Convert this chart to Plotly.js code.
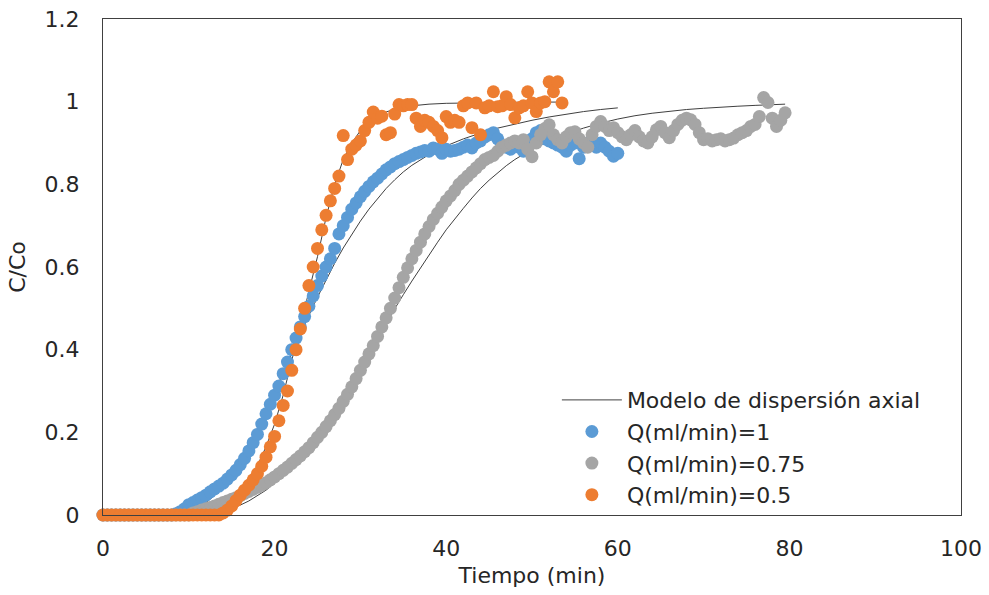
<!DOCTYPE html>
<html>
<head>
<meta charset="utf-8">
<script src="https://cdn.plot.ly/plotly-3.0.1.min.js"></script>
<style>html,body{margin:0;padding:0;background:#fff}#chart{width:989px;height:595px}</style>
</head>
<body>
<div id="chart"></div>
<script>
// ---- Data ----
// Q = 0.5 ml/min (orange)
const tOrange = [
0,0.5,1,1.5,2,2.5,3,3.5,4,4.5,
5,5.5,6,6.5,7,7.5,8,8.5,9,9.5,
10,10.5,11,11.5,12,12.5,13,13.5,14,14.5,
15,15.5,16,16.5,17,17.5,18,18.5,19,19.5,
20,20.5,21,21.5,22,22.5,23,23.5,24,24.5,
25,25.5,26,26.5,27,27.5,28,28.5,29,29.5,
30,30.5,31,31.5,32,32.5,33,33.5,34,34.5,
35,35.5,36,36.5,37,37.5,38,38.5,39,39.5,
40,40.5,41,41.5,42,42.5,43,43.5,44,44.5,
45,45.5,46,46.5,47,47.5,48,48.5,49,49.5,
50,50.5,51,51.5,52,52.5,53,53.5];
const cOrange = [
0,0,0,0,0,0,0,0,0,0,
0,0,0,0,0,0,0,0,0,0,
0,0,0,0,0,0,0,0,0.005,0.012,
0.022,0.035,0.048,0.06,0.072,0.085,0.1,0.118,0.14,0.165,
0.19,0.228,0.265,0.3,0.35,0.4,0.45,0.5,0.555,0.6,
0.645,0.69,0.725,0.76,0.79,0.82,0.918,0.86,0.885,0.895,
0.905,0.93,0.95,0.975,0.96,0.965,0.92,0.925,0.97,0.993,
0.99,0.993,0.993,0.96,0.94,0.955,0.95,0.94,0.93,0.913,
0.964,0.95,0.955,0.95,0.99,0.997,0.937,0.997,0.92,0.985,
0.99,1.024,0.988,0.99,1.012,0.993,0.961,0.985,0.99,1.024,
0.997,0.976,0.997,1.0,1.048,1.024,1.048,0.997];

// Q = 1 ml/min (blue)
const tBlue = [
0,0.5,1,1.5,2,2.5,3,3.5,4,4.5,
5,5.5,6,6.5,7,7.5,8,8.5,9,9.5,
10,10.5,11,11.5,12,12.5,13,13.5,14,14.5,
15,15.5,16,16.5,17,17.5,18,18.5,19,19.5,
20,20.5,21,21.5,22,22.5,23,23.5,24,24.5,
25,25.5,26,26.5,27,27.5,28,28.5,29,29.5,
30,30.5,31,31.5,32,32.5,33,33.5,34,34.5,
35,35.5,36,36.5,37,37.5,38,38.5,39,39.5,
40,40.5,41,41.5,42,42.5,43,43.5,44,44.5,
45,45.5,46,46.5,47,47.5,48,48.5,49,49.5,
50,50.5,51,51.5,52,52.5,53,53.5,54,54.5,
55,55.5,56,56.5,57,57.5,58,58.5,59,59.5,
60];
const cBlue = [
0,0,0,0,0,0,0,0,0,0,
0,0,0,0,0,0,0,0.003,0.008,0.015,
0.025,0.03,0.036,0.042,0.048,0.056,0.063,0.07,0.077,0.087,
0.097,0.108,0.122,0.137,0.155,0.175,0.195,0.22,0.245,0.268,
0.29,0.312,0.342,0.37,0.4,0.428,0.455,0.48,0.505,0.53,
0.555,0.578,0.6,0.62,0.645,0.68,0.7,0.72,0.74,0.755,
0.77,0.783,0.795,0.806,0.815,0.825,0.835,0.842,0.85,0.855,
0.86,0.865,0.87,0.875,0.878,0.882,0.88,0.888,0.885,0.875,
0.885,0.88,0.882,0.885,0.89,0.895,0.888,0.9,0.905,0.915,
0.92,0.925,0.91,0.895,0.89,0.885,0.9,0.89,0.88,0.9,
0.91,0.925,0.93,0.91,0.905,0.9,0.895,0.89,0.88,0.895,
0.9,0.862,0.89,0.9,0.895,0.89,0.9,0.89,0.88,0.868,
0.875];

// Q = 0.75 ml/min (gray)
const tGray = [
0,0.5,1,1.5,2,2.5,3,3.5,4,4.5,
5,5.5,6,6.5,7,7.5,8,8.5,9,9.5,
10,10.5,11,11.5,12,12.5,13,13.5,14,14.5,
15,15.5,16,16.5,17,17.5,18,18.5,19,19.5,
20,20.5,21,21.5,22,22.5,23,23.5,24,24.5,
25,25.5,26,26.5,27,27.5,28,28.5,29,29.5,
30,30.5,31,31.5,32,32.5,33,33.5,34,34.5,
35,35.5,36,36.5,37,37.5,38,38.5,39,39.5,
40,40.5,41,41.5,42,42.5,43,43.5,44,44.5,
45,45.5,46,46.5,47,47.5,48,48.5,49,49.5,
50,50.5,51,51.5,52,52.5,53,53.5,54,54.5,
55,55.5,56,56.5,57,57.5,58,58.5,59,59.5,
60,60.5,61,61.5,62,62.5,63,63.5,64,64.5,
65,65.5,66,66.5,67,67.5,68,68.5,69,69.5,
70,70.5,71,71.5,72,72.5,73,73.5,74,74.5,
75,75.5,76,76.5,77,77.5,78,78.5,79,79.5];
const cGray = [
0,0,0,0,0,0,0,0,0,0,
0,0,0,0,0,0,0,0,0,0,
0,0.005,0.008,0.012,0.015,0.018,0.022,0.026,0.03,0.034,
0.038,0.042,0.047,0.052,0.057,0.062,0.067,0.072,0.078,0.085,
0.092,0.1,0.108,0.116,0.125,0.134,0.143,0.153,0.163,0.175,
0.188,0.2,0.214,0.228,0.243,0.258,0.275,0.292,0.31,0.33,
0.35,0.37,0.39,0.41,0.432,0.455,0.477,0.5,0.525,0.55,
0.575,0.598,0.62,0.64,0.66,0.68,0.698,0.715,0.73,0.745,
0.76,0.772,0.785,0.8,0.81,0.82,0.83,0.84,0.85,0.86,
0.865,0.87,0.88,0.89,0.895,0.9,0.905,0.9,0.908,0.885,
0.867,0.9,0.92,0.935,0.944,0.92,0.908,0.9,0.915,0.925,
0.927,0.91,0.9,0.89,0.92,0.94,0.952,0.94,0.93,0.937,
0.925,0.915,0.908,0.92,0.93,0.915,0.905,0.9,0.915,0.932,
0.94,0.925,0.913,0.93,0.945,0.955,0.96,0.956,0.945,0.925,
0.908,0.91,0.905,0.908,0.91,0.905,0.908,0.912,0.92,0.925,
0.93,0.94,0.945,0.964,1.01,0.998,0.96,0.94,0.955,0.973];

// Axial dispersion model curves
const tModelBlue = [0,8,9,10,11,12,13,14,15,16,17,18,19,20,21,22,23,24,25,26,27,28,29,30,31,32,33,34,35,36,37,38,39,40,42,44,46,48,50,52,54,56,58,60];
const cModelBlue = [0,0,0.004,0.01,0.018,0.03,0.047,0.07,0.098,0.13,0.167,0.208,0.252,0.298,0.345,0.392,0.438,0.483,0.527,0.569,0.609,0.646,0.68,0.711,0.74,0.766,0.79,0.811,0.83,0.846,0.86,0.872,0.883,0.893,0.91,0.924,0.936,0.946,0.955,0.963,0.97,0.976,0.981,0.985];

const tModelOrange = [0,10,11,12,13,14,15,16,17,18,19,20,21,22,23,24,25,26,27,28,29,30,31,32,33,34,35,36,38,40,45,50,53];
const cModelOrange = [0,0,0.002,0.005,0.012,0.022,0.038,0.058,0.085,0.12,0.165,0.22,0.29,0.375,0.46,0.545,0.625,0.72,0.8,0.86,0.9,0.93,0.95,0.965,0.975,0.982,0.987,0.99,0.994,0.996,0.998,0.999,0.999];

const tModelGray = [0,11,12,13,14,15,16,17,18,19,20,21,22,23,24,25,26,27,28,29,30,31,32,33,34,35,36,37,38,39,40,41,42,43,44,45,46,47,48,50,52,54,56,58,60,62,64,66,68,70,72,74,76,78,79.5];
const cModelGray = [0,0,0.003,0.006,0.01,0.016,0.024,0.034,0.046,0.06,0.077,0.096,0.118,0.142,0.168,0.196,0.226,0.258,0.291,0.325,0.36,0.395,0.43,0.465,0.5,0.533,0.566,0.598,0.628,0.66,0.69,0.717,0.742,0.767,0.79,0.81,0.828,0.845,0.86,0.885,0.905,0.922,0.936,0.948,0.958,0.966,0.972,0.977,0.981,0.984,0.987,0.989,0.991,0.993,0.994];

const seriesNames = ['Modelo de dispersión axial','Q(ml/min)=1','Q(ml/min)=0.75','Q(ml/min)=0.5'];

// ---- Traces ----
const lineStyle = {color:'#404040', width:1};
const markerSize = 13;
const traces = [
  {x:tModelBlue, y:cModelBlue, mode:'lines', line:lineStyle, name:seriesNames[0], showlegend:true, legendrank:1, cliponaxis:false},
  {x:tModelOrange, y:cModelOrange, mode:'lines', line:lineStyle, name:seriesNames[0], showlegend:false, cliponaxis:false},
  {x:tModelGray, y:cModelGray, mode:'lines', line:lineStyle, name:seriesNames[0], showlegend:false, cliponaxis:false},
  {x:tBlue, y:cBlue, mode:'markers', marker:{color:'#5B9BD5', size:markerSize}, name:seriesNames[1], legendrank:2, cliponaxis:false},
  {x:tGray, y:cGray, mode:'markers', marker:{color:'#A5A5A5', size:markerSize}, name:seriesNames[2], legendrank:3, cliponaxis:false},
  {x:tOrange, y:cOrange, mode:'markers', marker:{color:'#ED7D31', size:markerSize}, name:seriesNames[3], legendrank:4, cliponaxis:false}
];

const fontFamily = '"DejaVu Sans", "Liberation Sans", Arial, sans-serif';
const textColor = '#262626';
const axisCommon = {
  showgrid:false, zeroline:false, showline:true, mirror:true,
  linecolor:'#404040', linewidth:1, ticks:'',
  tickfont:{family:fontFamily, size:22, color:textColor}
};

const layout = {
  width:989, height:595,
  margin:{l:103, r:28, t:19, b:80},
  paper_bgcolor:'#ffffff', plot_bgcolor:'#ffffff',
  font:{family:fontFamily, size:22, color:textColor},
  showlegend:true,
  hovermode:false,
  xaxis: Object.assign({}, axisCommon, {
    range:[0,100], tick0:0, dtick:20, ticklabelstandoff:14,
    title:{text:'Tiempo (min)', standoff:7, font:{family:fontFamily, size:22, color:textColor}}
  }),
  yaxis: Object.assign({}, axisCommon, {
    range:[0,1.2], tick0:0, dtick:0.2, ticklabelstandoff:18,
    title:{text:'C/Co', standoff:12, font:{family:fontFamily, size:22, color:textColor}}
  }),
  legend:{
    x:0.529, y:0.274, xanchor:'left', yanchor:'top',
    bgcolor:'rgba(255,255,255,0)', borderwidth:0,
    font:{family:fontFamily, size:22, color:textColor}, itemwidth:60, tracegroupgap:0
  }
};

Plotly.newPlot('chart', traces, layout, {staticPlot:true, displayModeBar:false});
</script>
</body>
</html>
